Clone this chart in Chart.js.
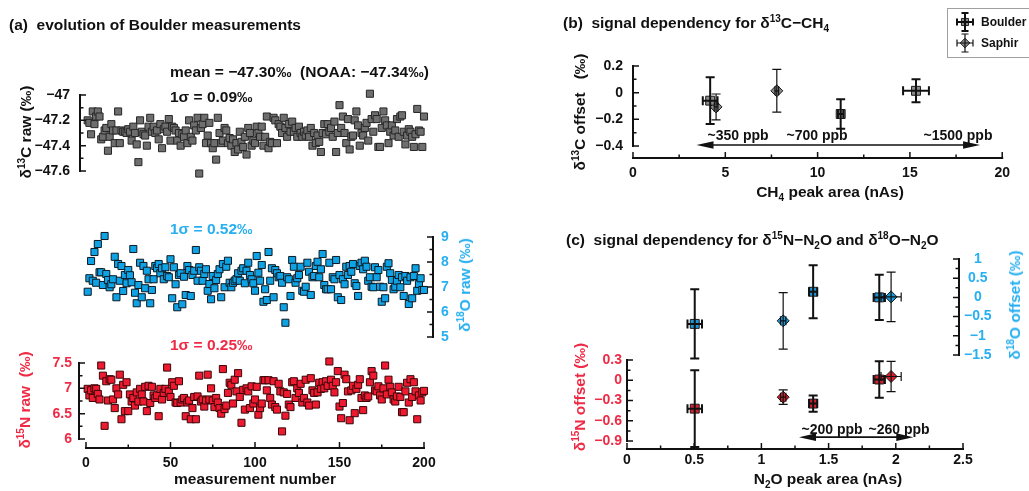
<!DOCTYPE html>
<html lang="en">
<head>
<meta charset="utf-8">
<title>Boulder measurements and signal dependency</title>
<script src="https://cdn.jsdelivr.net/npm/chart.js@4.4.1/dist/chart.umd.min.js"></script>
<style>
  html, body { margin: 0; padding: 0; background: #fff; }
  #fig { position: relative; width: 1029px; height: 491px; overflow: hidden;
         font-family: "Liberation Sans", Arial, Helvetica, sans-serif; font-weight: bold; color: #111; }
  #fig canvas { position: absolute; left: 0; top: 0; }
  .t { position: absolute; white-space: nowrap; font-size: 15.5px; line-height: 16px; }
  .c { transform: translate(-50%, -50%); }
  .rot { transform: translate(-50%, -50%) rotate(-90deg); }
  .t sup, .t sub { font-size: 10px; line-height: 0; }
  .blue { color: #27aff0; }
  .red { color: #ef2a45; }
  .ann { font-size: 14px; }
</style>
</head>
<body>
<div id="fig">
  <canvas id="c13" width="1029" height="491"></canvas>
  <canvas id="c18" width="1029" height="491"></canvas>
  <canvas id="c15" width="1029" height="491"></canvas>
  <canvas id="cb" width="1029" height="491"></canvas>
  <canvas id="cc" width="1029" height="491"></canvas>

  <div class="t" style="left:9px;top:17px">(a)&nbsp; evolution of Boulder measurements</div>
  <div class="t" style="left:170px;top:64px">mean = −47.30‰&nbsp; (NOAA: −47.34‰)</div>
  <div class="t" style="left:170px;top:89px">1σ = 0.09‰</div>
  <div class="t blue" style="left:170px;top:221px">1σ = 0.52‰</div>
  <div class="t red" style="left:170px;top:337px">1σ = 0.25‰</div>
  <div class="t c" style="left:255px;top:479px">measurement number</div>
  <div class="t rot" style="left:26px;top:132px">δ<sup>13</sup>C raw (‰)</div>
  <div class="t rot blue" style="left:465px;top:285px">δ<sup>18</sup>O raw (‰)</div>
  <div class="t rot red" style="left:25px;top:400px">δ<sup>15</sup>N raw&nbsp; (‰)</div>

  <div class="t" style="left:563px;top:15px">(b)&nbsp; signal dependency for δ<sup>13</sup>C−CH<sub>4</sub></div>
  <div class="t c" style="left:830px;top:192px">CH<sub>4</sub> peak area (nAs)</div>
  <div class="t rot" style="left:580px;top:112px">δ<sup>13</sup>C offset&nbsp;&nbsp; (‰)</div>
  <div class="t c ann" style="left:738px;top:135px">~350 ppb</div>
  <div class="t c ann" style="left:817px;top:135px">~700 ppb</div>
  <div class="t c ann" style="left:958px;top:135px">~1500 ppb</div>

  <div class="t" style="left:566px;top:232px">(c)&nbsp; signal dependency for δ<sup>15</sup>N−N<sub>2</sub>O and δ<sup>18</sup>O−N<sub>2</sub>O</div>
  <div class="t c" style="left:828px;top:479px">N<sub>2</sub>O peak area (nAs)</div>
  <div class="t rot red" style="left:580px;top:397px">δ<sup>15</sup>N offset (‰)</div>
  <div class="t rot blue" style="left:1015px;top:305px">δ<sup>18</sup>O offset (‰)</div>
  <div class="t c ann" style="left:832px;top:429px">~200 ppb</div>
  <div class="t c ann" style="left:899px;top:429px">~260 ppb</div>
</div>

<script>
// ---------- (a) Boulder raw values, one per measurement ----------
const d13cRaw = [
  -47.20,-47.22,-47.31,-47.13,-47.23,-47.17,-47.13,-47.17,-47.35,-47.33,
  -47.28,-47.26,-47.44,-47.33,-47.23,-47.28,-47.38,-47.28,-47.13,-47.38,
  -47.28,-47.29,-47.29,-47.30,-47.27,-47.29,-47.36,-47.25,-47.30,-47.39,
  -47.53,-47.20,-47.29,-47.31,-47.32,-47.40,-47.25,-47.18,-47.29,-47.25,
  -47.30,-47.28,-47.35,-47.23,-47.42,-47.27,-47.25,-47.29,-47.19,-47.36,
  -47.25,-47.26,-47.28,-47.36,-47.30,-47.40,-47.31,-47.33,-47.28,-47.38,
  -47.20,-47.33,-47.36,-47.24,-47.28,-47.18,-47.62,-47.26,-47.23,-47.18,
  -47.38,-47.32,-47.22,-47.38,-47.42,-47.38,-47.51,-47.18,-47.30,-47.38,
  -47.36,-47.26,-47.28,-47.38,-47.34,-47.40,-47.35,-47.45,-47.38,-47.43,
  -47.29,-47.37,-47.41,-47.33,-47.47,-47.26,-47.30,-47.40,-47.36,-47.38,
  -47.25,-47.30,-47.33,-47.25,-47.40,-47.33,-47.17,-47.42,-47.37,-47.38,
  -47.18,-47.20,-47.38,-47.23,-47.25,-47.30,-47.18,-47.26,-47.33,-47.23,
  -47.29,-47.21,-47.29,-47.26,-47.33,-47.25,-47.30,-47.33,-47.29,-47.32,
  -47.28,-47.33,-47.26,-47.40,-47.30,-47.38,-47.32,-47.37,-47.45,-47.30,
  -47.23,-47.31,-47.23,-47.29,-47.26,-47.33,-47.21,-47.45,-47.30,-47.08,
  -47.26,-47.17,-47.30,-47.38,-47.19,-47.43,-47.33,-47.32,-47.20,-47.13,
  -47.24,-47.40,-47.30,-47.32,-47.26,-47.22,-47.36,-46.99,-47.19,-47.29,
  -47.16,-47.19,-47.41,-47.41,-47.26,-47.13,-47.20,-47.24,-47.38,-47.29,
  -47.24,-47.32,-47.28,-47.19,-47.33,-47.17,-47.16,-47.29,-47.39,-47.32,
  -47.27,-47.29,-47.33,-47.41,-47.31,-47.11,-47.28,-47.29,-47.41,-47.17
];
const d18oRaw = [
  6.81,7.35,8.04,7.25,8.40,7.17,8.72,7.59,7.59,7.08,
  9.04,7.52,7.28,6.99,7.11,7.31,8.21,6.59,7.92,7.25,
  7.84,6.84,7.48,7.15,7.68,7.47,7.19,8.52,6.77,6.35,
  7.08,7.97,6.59,7.84,6.95,7.65,7.31,6.35,6.88,7.31,
  7.84,7.75,7.92,7.55,7.75,7.31,7.79,7.44,7.39,8.11,
  6.55,7.79,7.11,6.19,7.48,7.55,6.31,7.41,6.68,7.84,
  7.68,6.64,7.48,7.65,8.48,7.25,7.79,7.65,7.25,7.52,
  7.71,6.85,7.12,6.51,7.44,6.95,7.28,7.52,7.71,6.59,
  7.92,6.99,7.81,8.05,7.17,6.99,7.17,7.25,7.31,7.55,
  7.25,7.65,7.75,7.15,7.65,7.97,7.48,7.31,7.15,6.85,
  8.24,7.57,7.25,7.88,6.41,6.91,6.48,8.40,7.25,7.75,
  6.59,7.68,7.55,7.39,7.44,7.17,6.19,5.57,7.39,7.31,
  6.64,8.08,7.81,7.17,7.35,7.48,7.81,6.85,6.81,7.01,
  7.97,7.61,6.68,7.39,7.44,7.84,8.01,7.39,7.71,8.32,
  7.08,6.91,6.91,7.97,6.91,7.39,7.31,8.08,6.59,7.48,
  6.48,7.31,7.11,7.81,7.48,7.84,7.61,7.92,7.15,7.04,
  6.64,7.84,7.97,7.71,8.05,7.81,7.25,7.39,7.01,6.99,
  7.79,7.39,7.68,7.01,6.41,6.99,6.55,7.81,7.95,7.55,
  7.28,6.91,7.01,7.25,7.48,6.99,7.39,6.64,7.44,7.25,
  6.32,7.39,6.55,7.44,7.75,6.85,7.12,7.35,6.88,6.88
];
const d15nRaw = [
  6.99,6.86,6.96,6.81,7.00,6.99,6.89,6.78,7.45,7.25,
  6.26,7.14,6.76,7.18,7.17,6.78,6.61,7.00,6.88,7.27,
  6.39,7.07,6.55,7.12,6.55,6.88,6.74,6.81,6.66,6.92,
  6.74,6.99,6.88,6.74,7.03,6.55,7.05,6.71,7.03,6.86,
  6.81,6.86,6.45,6.99,6.78,6.91,6.99,7.41,6.94,6.83,
  7.12,7.05,6.72,6.71,7.14,6.72,6.78,6.81,6.45,6.72,
  6.76,6.39,6.61,6.83,6.39,6.84,7.25,6.74,6.78,6.64,
  6.76,7.27,6.78,7.00,6.76,6.63,6.81,6.72,6.61,6.50,
  7.38,6.59,6.66,6.91,7.11,7.07,6.70,7.17,6.94,7.30,
  6.83,6.32,6.97,6.58,7.00,6.94,6.61,7.04,6.70,6.78,
  7.03,6.48,6.61,6.70,7.16,7.16,6.96,7.16,6.81,6.68,
  7.14,6.63,6.58,7.09,6.94,6.15,6.92,6.46,6.89,6.68,
  6.63,7.12,7.14,6.81,7.00,6.91,7.09,6.72,6.81,7.17,
  6.72,6.66,7.20,6.96,6.91,6.68,6.92,7.11,6.99,7.12,
  7.00,7.14,7.05,7.53,7.17,7.05,6.92,7.12,7.34,6.64,
  6.41,6.71,7.27,7.18,6.94,6.37,6.96,7.05,6.51,6.99,
  7.07,7.18,6.81,6.57,6.86,6.81,6.84,7.12,7.34,7.25,
  6.96,6.94,7.04,6.86,6.78,7.00,7.45,6.88,7.17,7.03,
  6.92,6.78,6.74,6.84,7.03,6.83,6.53,6.53,6.94,7.11,
  6.72,7.18,6.83,7.12,6.94,6.39,6.86,6.76,6.92,6.95
];
const measurementNo = d13cRaw.map((_, i) => i + 1);

const measurementTicks = [0, 50, 100, 150, 200];
const d13cRawTicks = [-47.6, -47.4, -47.2, -47];
const d18oRawTicks = [5, 6, 7, 8, 9];
const d15nRawTicks = [6, 6.5, 7, 7.5];

// ---------- (b) δ13C-CH4 offset vs CH4 peak area ----------
const boulderCH4Area    = [4.18, 11.25, 15.33];
const boulderCH4AreaErr = [0.40, 0.15, 0.70];
const boulderD13cOffset = [-0.06, -0.16, 0.014];
const boulderD13cErr    = [0.175, 0.11, 0.086];
const saphirCH4Area     = [4.50, 7.79];
const saphirCH4AreaErr  = [0.10, 0.10];
const saphirD13cOffset  = [-0.107, 0.014];
const saphirD13cErr     = [0.097, 0.16];
const ch4AreaTicks      = [0, 5, 10, 15, 20];
const d13cOffsetTicks   = [-0.4, -0.2, 0, 0.2];
const ch4RangeArrow     = { from: 3.44, to: 18.8, at: -0.392 };

// ---------- (c) δ15N / δ18O-N2O offsets vs N2O peak area ----------
const boulderN2OArea    = [0.504, 1.385, 1.877];
const boulderN2OAreaErr = [0.054, 0.03, 0.042];
const boulderD15nOffset = [-0.42, -0.345, 0.012];
const boulderD15nErr    = [0.57, 0.12, 0.27];
const boulderD18oOffset = [-0.69, 0.147, 0.0];
const boulderD18oErr    = [0.90, 0.69, 0.59];
const saphirN2OArea     = [1.162, 1.965];
const saphirN2OAreaErr  = [0.02, 0.075];
const saphirD15nOffset  = [-0.25, 0.057];
const saphirD15nErr     = [0.107, 0.225];
const saphirD18oOffset  = [-0.61, 0.013];
const saphirD18oErr     = [0.735, 0.645];
const n2oAreaTicks      = [0, 0.5, 1, 1.5, 2, 2.5];
const d15nOffsetTicks   = [-0.9, -0.6, -0.3, 0, 0.3];
const d18oOffsetTicks   = [-1.5, -1, -0.5, 0, 0.5, 1];
const n2oRangeArrow     = { from: 1.28, to: 2.13, at: -0.843 };

// ---------- styling ----------
const FONT = '"Liberation Sans", Arial, Helvetica, sans-serif';
const INK = '#111';
const BLUE_TEXT = '#27aff0';
const RED_TEXT = '#ef2a45';
Chart.defaults.font.family = FONT;
Chart.defaults.color = INK;

const fmt = v => String(+Number(v).toFixed(2)).replace('-', '\u2212');

function shownAxis(ticks, o) {
  return {
    type: 'linear', position: o.position, min: o.min, max: o.max,
    grid: { display: false, drawTicks: false },
    border: { display: false },
    afterBuildTicks: s => { s.ticks = ticks.map(v => ({ value: v })); },
    afterFit: s => { if (o.position === 'bottom') s.height = o.size; else s.width = o.size; },
    ticks: {
      font: { family: FONT, weight: 'bold', size: 14 }, color: o.color || INK,
      padding: o.pad, autoSkip: false, maxRotation: 0, minRotation: 0,
      crossAlign: o.crossAlign || 'near', callback: v => fmt(v)
    }
  };
}
const hiddenAxis = (min, max) => ({ type: 'linear', display: false, min, max });

// Per-canvas decoration: detached axis lines with inward ticks, range arrows, sample key.
const frameSpec = {
  c13: [{ scale: 'y', edge: 'left', offset: 6 }],
  c18: [{ scale: 'y', edge: 'right', offset: 9 }],
  c15: [{ scale: 'y', edge: 'left', offset: 7 }, { scale: 'x', edge: 'bottom', offset: 9 }],
  cb:  [{ scale: 'y', edge: 'left', offset: 0 }, { scale: 'x', edge: 'bottom', offset: 12 }],
  cc:  [{ scale: 'yN', edge: 'left', offset: 0 }, { scale: 'yO', edge: 'right', offset: -4 },
        { scale: 'x', edge: 'bottom', offset: 8 }]
};
const arrowSpec = {
  cb: [{ y: 'y', from: ch4RangeArrow.from, to: ch4RangeArrow.to, at: ch4RangeArrow.at }],
  cc: [{ y: 'yN', from: n2oRangeArrow.from, to: n2oRangeArrow.to, at: n2oRangeArrow.at }]
};

function drawFrame(chart) {
  const spec = frameSpec[chart.canvas.id] || [];
  const ctx = chart.ctx, area = chart.chartArea;
  spec.forEach(a => {
    const sc = chart.scales[a.scale];
    const vals = sc.ticks.map(t => t.value);
    const lo = vals[0], hi = vals[vals.length - 1];
    const minor = (vals[1] - vals[0]) / 2;
    const n = Math.round((hi - lo) / minor);
    ctx.save();
    ctx.strokeStyle = INK;
    ctx.lineWidth = 2;
    ctx.beginPath();
    if (a.edge === 'bottom') {
      const y0 = area.bottom + a.offset;
      ctx.moveTo(sc.getPixelForValue(lo) - 1, y0);
      ctx.lineTo(sc.getPixelForValue(hi) + 1, y0);
    } else {
      const x0 = a.edge === 'left' ? area.left - a.offset : area.right + a.offset;
      ctx.moveTo(x0, sc.getPixelForValue(lo) + 1);
      ctx.lineTo(x0, sc.getPixelForValue(hi) - 1);
    }
    ctx.stroke();
    ctx.lineWidth = 1.5;
    ctx.beginPath();
    for (let k = 0; k <= n; k++) {
      const p = sc.getPixelForValue(lo + k * minor);
      const len = k % 2 === 0 ? 6 : 3.5;
      if (a.edge === 'bottom') {
        const y0 = area.bottom + a.offset;
        ctx.moveTo(p, y0); ctx.lineTo(p, y0 - len);
      } else {
        const x0 = a.edge === 'left' ? area.left - a.offset : area.right + a.offset;
        const dir = a.edge === 'left' ? 1 : -1;
        ctx.moveTo(x0, p); ctx.lineTo(x0 + dir * len, p);
      }
    }
    ctx.stroke();
    ctx.restore();
  });
}

function drawErrorBars(chart) {
  const ctx = chart.ctx;
  chart.data.datasets.forEach((ds, i) => {
    const eb = ds.errorBars;
    if (!eb) return;
    const meta = chart.getDatasetMeta(i);
    const xs = chart.scales[meta.xAxisID], ys = chart.scales[meta.yAxisID];
    ctx.save();
    ctx.strokeStyle = INK;
    ctx.lineWidth = eb.width;
    ctx.beginPath();
    ds.data.forEach((p, j) => {
      const px = xs.getPixelForValue(p.x), py = ys.getPixelForValue(p.y);
      const yTop = ys.getPixelForValue(p.y + eb.yErr[j]), yBot = ys.getPixelForValue(p.y - eb.yErr[j]);
      const xL = xs.getPixelForValue(p.x - eb.xErr[j]), xR = xs.getPixelForValue(p.x + eb.xErr[j]);
      ctx.moveTo(px, yTop); ctx.lineTo(px, yBot);
      ctx.moveTo(px - eb.cap, yTop); ctx.lineTo(px + eb.cap, yTop);
      ctx.moveTo(px - eb.cap, yBot); ctx.lineTo(px + eb.cap, yBot);
      ctx.moveTo(xL, py); ctx.lineTo(xR, py);
      ctx.moveTo(xL, py - eb.cap); ctx.lineTo(xL, py + eb.cap);
      ctx.moveTo(xR, py - eb.cap); ctx.lineTo(xR, py + eb.cap);
    });
    ctx.stroke();
    ctx.restore();
  });
}

function drawArrows(chart) {
  const ctx = chart.ctx;
  (arrowSpec[chart.canvas.id] || []).forEach(a => {
    const xs = chart.scales.x, ys = chart.scales[a.y];
    const x1 = xs.getPixelForValue(a.from), x2 = xs.getPixelForValue(a.to);
    const y = ys.getPixelForValue(a.at);
    const hl = 17, hw = 3.8;
    ctx.save();
    ctx.strokeStyle = INK; ctx.fillStyle = INK; ctx.lineWidth = 1.6;
    ctx.beginPath(); ctx.moveTo(x1 + hl - 2, y); ctx.lineTo(x2 - hl + 2, y); ctx.stroke();
    ctx.beginPath();
    ctx.moveTo(x1, y); ctx.lineTo(x1 + hl, y - hw); ctx.lineTo(x1 + hl, y + hw); ctx.closePath();
    ctx.moveTo(x2, y); ctx.lineTo(x2 - hl, y - hw); ctx.lineTo(x2 - hl, y + hw); ctx.closePath();
    ctx.fill();
    ctx.restore();
  });
}

function drawKey(chart) {
  if (chart.canvas.id !== 'cb') return;
  const ctx = chart.ctx;
  ctx.save();
  ctx.strokeStyle = '#a0a0a0'; ctx.lineWidth = 1;
  ctx.strokeRect(947.5, 8.5, 90, 49);
  const rows = [
    { label: 'Boulder', style: 'rect', radius: 5, lw: 2, y: 22 },
    { label: 'Saphir', style: 'rectRot', radius: 4.8, lw: 1.2, y: 43 }
  ];
  rows.forEach(r => {
    const cx = 965;
    ctx.fillStyle = '#8a8a8a'; ctx.strokeStyle = '#222'; ctx.lineWidth = 1;
    Chart.helpers.drawPoint(ctx, { pointStyle: r.style, radius: r.radius, borderWidth: 1 }, cx, r.y);
    ctx.strokeStyle = INK; ctx.lineWidth = r.lw;
    ctx.beginPath();
    ctx.moveTo(cx - 8, r.y); ctx.lineTo(cx + 8, r.y);
    ctx.moveTo(cx - 8, r.y - 3.5); ctx.lineTo(cx - 8, r.y + 3.5);
    ctx.moveTo(cx + 8, r.y - 3.5); ctx.lineTo(cx + 8, r.y + 3.5);
    ctx.moveTo(cx, r.y - 9); ctx.lineTo(cx, r.y + 9);
    ctx.moveTo(cx - 3.5, r.y - 9); ctx.lineTo(cx + 3.5, r.y - 9);
    ctx.moveTo(cx - 3.5, r.y + 9); ctx.lineTo(cx + 3.5, r.y + 9);
    ctx.stroke();
    ctx.fillStyle = INK;
    ctx.font = 'bold 12px ' + FONT;
    ctx.textBaseline = 'middle'; ctx.textAlign = 'left';
    ctx.fillText(r.label, 981, r.y + 1);
  });
  ctx.restore();
}

const decorations = {
  id: 'decorations',
  afterDatasetsDraw(chart) {
    try { drawErrorBars(chart); drawArrows(chart); } catch (e) { console.error(e); }
  },
  afterDraw(chart) {
    try { drawFrame(chart); } catch (e) { console.error(e); }
    try { drawKey(chart); } catch (e) { console.error(e); }
  }
};

function makeChart(id, datasets, scales, padding) {
  return new Chart(document.getElementById(id), {
    type: 'scatter',
    data: { datasets },
    options: {
      responsive: false, animation: false, events: [], devicePixelRatio: 1,
      layout: { padding, autoPadding: false },
      scales,
      plugins: { legend: { display: false }, tooltip: { enabled: false } }
    },
    plugins: [decorations]
  });
}

function rawSeries(values, fill, edge) {
  return {
    data: values.map((v, i) => ({ x: measurementNo[i], y: v })),
    pointStyle: 'rect', pointRadius: 5, pointBackgroundColor: fill,
    pointBorderColor: edge, pointBorderWidth: 1, clip: false
  };
}
function offsetSeries(xs, xErr, ys, yErr, style, fill, yAxisID, thick) {
  return {
    data: xs.map((x, i) => ({ x, y: ys[i] })),
    yAxisID,
    pointStyle: style, pointRadius: style === 'rect' ? 6.3 : 6,
    pointBackgroundColor: fill, pointBorderColor: '#1a1a1a', pointBorderWidth: 1, clip: false,
    errorBars: { xErr, yErr, width: thick ? 2 : 1.2, cap: 4.5 }
  };
}

// (a) three stacked raw-value strips
makeChart('c13', [rawSeries(d13cRaw, '#6e6e6e', '#262626')], {
  x: hiddenAxis(0, 200),
  y: shownAxis(d13cRawTicks, { position: 'left', min: -47.6, max: -47, size: 60, pad: 16 })
}, { left: 26, right: 605, top: 95, bottom: 320 });

makeChart('c18', [rawSeries(d18oRaw, '#0fa2e4', '#0b1a24')], {
  x: hiddenAxis(0, 200),
  y: shownAxis(d18oRawTicks, { position: 'right', min: 5, max: 9, size: 50, pad: 17, color: BLUE_TEXT })
}, { left: 86, right: 555, top: 237, bottom: 154 });

makeChart('c15', [rawSeries(d15nRaw, '#ee1a30', '#3a0508')], {
  x: shownAxis(measurementTicks, { position: 'bottom', min: 0, max: 200, size: 40, pad: 16 }),
  y: shownAxis(d15nRawTicks, { position: 'left', min: 6, max: 7.5, size: 60, pad: 14, color: RED_TEXT })
}, { left: 26, right: 605, top: 363, bottom: 12 });

// (b) CH4 signal dependency
makeChart('cb', [
  offsetSeries(boulderCH4Area, boulderCH4AreaErr, boulderD13cOffset, boulderD13cErr, 'rect', '#8c8c8c', 'y', true),
  offsetSeries(saphirCH4Area, saphirCH4AreaErr, saphirD13cOffset, saphirD13cErr, 'rectRot', '#8c8c8c', 'y', false)
], {
  x: shownAxis(ch4AreaTicks, { position: 'bottom', min: 0, max: 20, size: 40, pad: 19 }),
  y: shownAxis(d13cOffsetTicks, { position: 'left', min: -0.4, max: 0.2, size: 60, pad: 10 })
}, { left: 573, right: 6, top: 66, bottom: 305 });

// (c) N2O signal dependency, δ15N on the left axis, δ18O on the right axis
makeChart('cc', [
  offsetSeries(boulderN2OArea, boulderN2OAreaErr, boulderD18oOffset, boulderD18oErr, 'rect', '#1c9ad8', 'yO', true),
  offsetSeries(saphirN2OArea, saphirN2OAreaErr, saphirD18oOffset, saphirD18oErr, 'rectRot', '#1c9ad8', 'yO', false),
  offsetSeries(boulderN2OArea, boulderN2OAreaErr, boulderD15nOffset, boulderD15nErr, 'rect', '#d6202e', 'yN', true),
  offsetSeries(saphirN2OArea, saphirN2OAreaErr, saphirD15nOffset, saphirD15nErr, 'rectRot', '#d6202e', 'yN', false)
], {
  x: shownAxis(n2oAreaTicks, { position: 'bottom', min: 0, max: 2.5, size: 40, pad: 11 }),
  yN: shownAxis(d15nOffsetTicks, { position: 'left', min: -0.9, max: 1.8, size: 60, pad: 5, color: RED_TEXT }),
  yO: shownAxis(d18oOffsetTicks, { position: 'right', min: -3.74, max: 1, size: 40, pad: 1, color: BLUE_TEXT, crossAlign: 'center' })
}, { left: 567, right: 26, top: 259, bottom: 10 });
</script>
</body>
</html>
